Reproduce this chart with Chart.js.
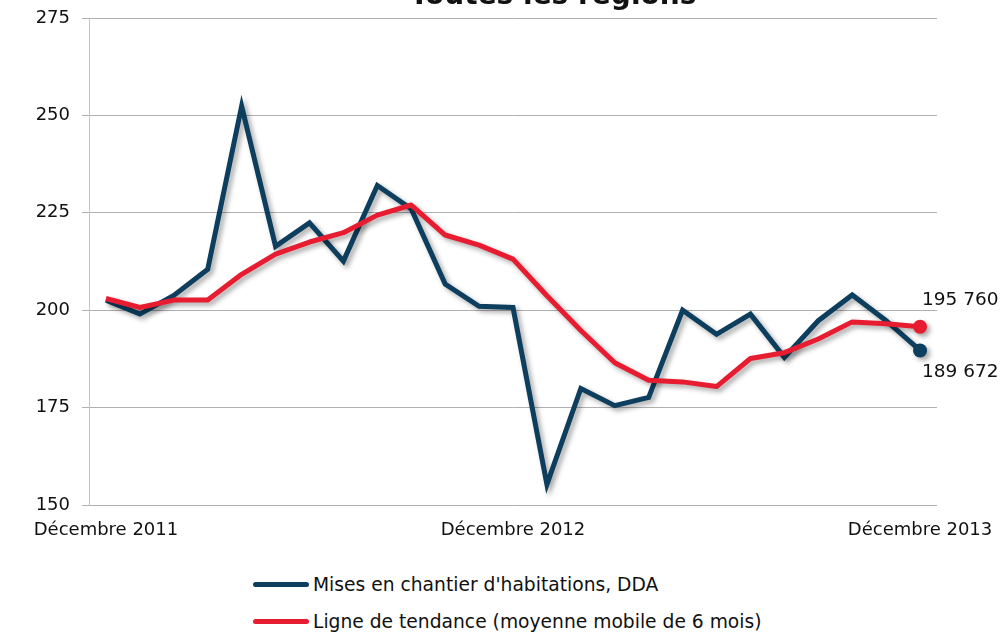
<!DOCTYPE html>
<html lang="fr">
<head>
<meta charset="utf-8">
<script src="https://cdn.jsdelivr.net/npm/chart.js@4/dist/chart.umd.min.js"></script>
<style>
  body { margin: 0; background: #fff; font-family: "DejaVu Sans", sans-serif; }
  #wrap { position: relative; width: 1003px; height: 635px; overflow: hidden; }
  #legende { position: absolute; left: 253px; top: 566px; font-size: 18.7px; color: #111; }
  .item { display: flex; align-items: center; height: 37px; }
  .trait { width: 56px; height: 5px; border-radius: 3px; margin-right: 4px; }
</style>
</head>
<body>
<div id="wrap">
  <canvas id="graphique" width="1003" height="545"></canvas>
  <div id="legende"></div>
</div>
<script>
// Données (en milliers)
const titre = "Toutes les régions";
const mois = [
  "Décembre 2011", "Janvier 2012", "Février 2012", "Mars 2012", "Avril 2012", "Mai 2012",
  "Juin 2012", "Juillet 2012", "Août 2012", "Septembre 2012", "Octobre 2012", "Novembre 2012",
  "Décembre 2012", "Janvier 2013", "Février 2013", "Mars 2013", "Avril 2013", "Mai 2013",
  "Juin 2013", "Juillet 2013", "Août 2013", "Septembre 2013", "Octobre 2013", "Novembre 2013",
  "Décembre 2013"
];
const misesEnChantier = [
  202.6, 199.0, 203.8, 210.5, 252.4, 216.4, 222.4, 212.6, 232.0, 226.0, 206.7, 201.0,
  200.7, 155.3, 179.9, 175.5, 177.6, 200.0, 193.8, 199.0, 187.9, 197.3, 203.9, 197.3,
  189.672
];
const tendance = [
  203.0, 200.7, 202.6, 202.6, 209.2, 214.4, 217.5, 219.9, 224.4, 227.0, 219.3, 216.7,
  213.1, 203.7, 194.8, 186.5, 182.0, 181.6, 180.4, 187.6, 189.1, 192.6, 197.0, 196.5,
  195.76
];
const etiquettesFin = ["189 672", "195 760"];
const moisAffiches = [0, 12, 24];

const bleu = "#0d3e5e";
const rouge = "#e81c30";
const police = '"DejaVu Sans", sans-serif';

// ombre portée sous les courbes
const ombre = {
  id: "ombre",
  beforeDatasetDraw(chart) {
    const ctx = chart.ctx;
    ctx.save();
    ctx.shadowColor = "rgba(0,0,0,0.35)";
    ctx.shadowBlur = 5;
    ctx.shadowOffsetX = 3;
    ctx.shadowOffsetY = 3;
  },
  afterDatasetDraw(chart) {
    chart.ctx.restore();
  }
};

// titre coupé en haut
const titreCoupe = {
  id: "titreCoupe",
  afterDraw(chart) {
    const ctx = chart.ctx;
    ctx.save();
    ctx.font = "bold 28px " + police;
    ctx.fillStyle = "#111";
    ctx.textAlign = "center";
    ctx.textBaseline = "alphabetic";
    ctx.fillText(titre, 553, 4);
    ctx.restore();
  }
};

// valeurs au bout des courbes
const valeursFin = {
  id: "valeursFin",
  afterDatasetsDraw(chart) {
    const ctx = chart.ctx;
    const derniers = chart.data.datasets.map((d, i) => {
      const meta = chart.getDatasetMeta(i);
      return meta.data[meta.data.length - 1];
    });
    ctx.save();
    ctx.font = "18.5px " + police;
    ctx.fillStyle = "#111";
    ctx.textBaseline = "middle";
    derniers.forEach((pt, i) => {
      const autre = derniers[1 - i];
      const dessus = pt.y < autre.y;
      ctx.fillText(etiquettesFin[i], pt.x + 2, dessus ? pt.y - 27 : pt.y + 22);
    });
    ctx.restore();
  }
};

// légende en HTML, une ligne par série
const legendeHtml = {
  id: "legendeHtml",
  afterUpdate(chart) {
    const box = document.getElementById("legende");
    box.innerHTML = "";
    chart.data.datasets.forEach((d) => {
      const item = document.createElement("div");
      item.className = "item";
      const trait = document.createElement("span");
      trait.className = "trait";
      trait.style.background = d.borderColor;
      const txt = document.createElement("span");
      txt.textContent = d.label;
      item.appendChild(trait);
      item.appendChild(txt);
      box.appendChild(item);
    });
  }
};

const dernierPoint = (c) => (c.dataIndex === c.dataset.data.length - 1 ? 7 : 0);

const ctx = document.getElementById("graphique").getContext("2d");
new Chart(ctx, {
  type: "line",
  data: {
    labels: mois,
    datasets: [
      {
        label: "Mises en chantier d'habitations, DDA",
        data: misesEnChantier,
        borderColor: bleu,
        backgroundColor: bleu,
        borderWidth: 5,
        borderJoinStyle: "miter",
        tension: 0,
        pointRadius: dernierPoint,
        pointHoverRadius: dernierPoint,
        pointBorderWidth: 0,
        order: 1
      },
      {
        label: "Ligne de tendance (moyenne mobile de 6 mois)",
        data: tendance,
        borderColor: rouge,
        backgroundColor: rouge,
        borderWidth: 5,
        borderJoinStyle: "round",
        tension: 0,
        pointRadius: dernierPoint,
        pointHoverRadius: dernierPoint,
        pointBorderWidth: 0,
        order: 0
      }
    ]
  },
  options: {
    responsive: false,
    animation: false,
    devicePixelRatio: 1,
    layout: { padding: { top: 18, right: 66, bottom: 0, left: 0 } },
    plugins: {
      legend: { display: false },
      tooltip: { enabled: false },
      title: { display: false }
    },
    scales: {
      x: {
        offset: true,
        grid: { display: false, drawTicks: false },
        border: { display: false },
        ticks: {
          autoSkip: false,
          maxRotation: 0,
          minRotation: 0,
          padding: 15,
          color: "#111",
          font: { family: police, size: 18 },
          callback: (v, i) => (moisAffiches.includes(i) ? mois[i] : "")
        },
        afterFit: (s) => {
          s.height = 40;
          s.paddingLeft = 0;
          s.paddingRight = 0;
        }
      },
      y: {
        min: 150,
        max: 275,
        grid: { color: "#b0b0b0", lineWidth: 1, tickLength: 7 },
        border: { display: true, color: "#c4c4c4", width: 1 },
        ticks: {
          stepSize: 25,
          padding: 12,
          color: "#111",
          font: { family: police, size: 18 }
        },
        afterFit: (s) => {
          s.width = 89;
          s.paddingTop = 0;
          s.paddingBottom = 0;
        }
      }
    }
  },
  plugins: [ombre, titreCoupe, valeursFin, legendeHtml]
});
</script>
</body>
</html>
